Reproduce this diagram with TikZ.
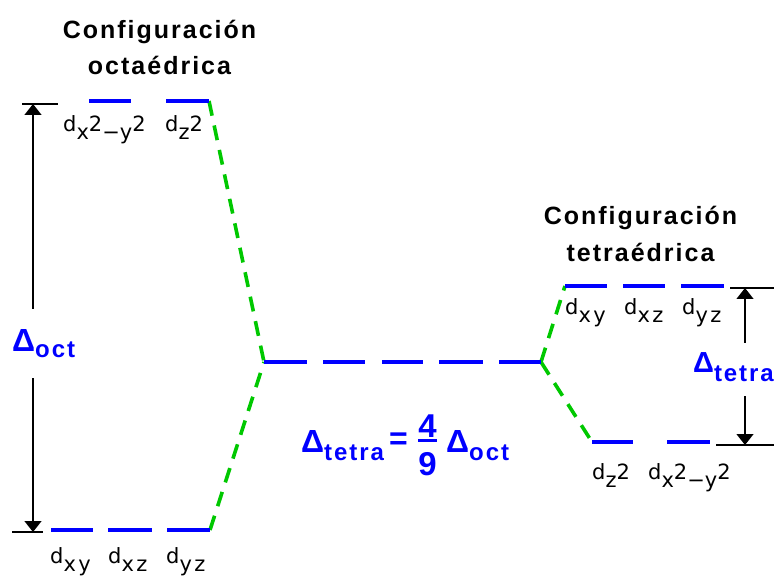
\documentclass[tikz,border=0pt]{standalone}
\usepackage{fontspec}
\setmainfont{Liberation Sans}
\newfontfamily\titlefont{Liberation Sans}[LetterSpace=8]
\newfontfamily\dfont{DejaVu Sans}[LetterSpace=12]
\newfontfamily\bfont{Liberation Sans}[LetterSpace=8]
\usetikzlibrary{arrows.meta}
\definecolor{lvlblue}{RGB}{0,0,255}
\definecolor{lvlgreen}{RGB}{0,200,0}
\newcommand\lowr[1]{\raisebox{-8pt}{#1}}
\tikzset{
  lvl/.style={draw=lvlblue,line width=4pt},
  corr/.style={draw=lvlgreen,line width=3.6pt,dash pattern=on 15pt off 10pt},
  tick/.style={draw=black,line width=1.3pt},
  gap/.style={draw=black,line width=1.3pt,-{Triangle[width=17pt,length=11pt]}},
  ttl/.style={inner sep=0pt,anchor=base,font=\titlefont\bfseries\fontsize{25pt}{30pt}\selectfont},
  orb/.style={inner sep=0pt,anchor=base west,font=\dfont\fontsize{21pt}{24pt}\selectfont},
  blu/.style={inner sep=0pt,anchor=base west,text=lvlblue,font=\bfont\bfseries\fontsize{32pt}{36pt}\selectfont},
}
\begin{document}
\begin{tikzpicture}[x=1pt,y=-1pt]
\useasboundingbox (0,0) rectangle (774,577);
% titles
\node[ttl] (t1) at (159.5,39) {Configuración};
\node[ttl] (t2) at (159.5,75) {octaédrica};
\node[ttl] (t3) at (640.5,225) {Configuración};
\node[ttl] (t4) at (640.5,262) {tetraédrica};
% level end points
\coordinate (oTopR) at (209,101);
\coordinate (oBotR) at (210,530);
\coordinate (mL) at (264,362);
\coordinate (mR) at (541,362);
\coordinate (tUpL) at (565,286);
\coordinate (tLoL) at (592,442);
% correlation lines
\draw[corr] (oTopR) -- (mL);
\draw[corr] (oBotR) -- (mL);
\draw[corr] (mR) -- (tUpL);
\draw[corr] (mR) -- (tLoL);
% octahedral levels
\draw[lvl] (89,101) -- (131,101);
\draw[lvl] (166,101) -- (oTopR);
\draw[lvl] (51,530) -- (93,530);
\draw[lvl] (108,530) -- (152,530);
\draw[lvl] (167,530) -- (oBotR);
% barycentre
\draw[lvl] (mL) -- (307,362);
\draw[lvl] (323,362) -- (365,362);
\draw[lvl] (382,362) -- (423,362);
\draw[lvl] (439,362) -- (483,362);
\draw[lvl] (499,362) -- (mR);
% tetrahedral levels
\draw[lvl] (tUpL) -- (607,286);
\draw[lvl] (623,286) -- (665,286);
\draw[lvl] (681,286) -- (724,286);
\draw[lvl] (tLoL) -- (633,442);
\draw[lvl] (667,442) -- (710,442);
% orbital labels
\node[orb] (o1) at (63,132) {d\lowr{x}2\lowr{−}\lowr{y}2};
\node[orb] (o2) at (165,132) {d\lowr{z}2};
\node[orb] (o3) at (50,563) {d\lowr{xy}};
\node[orb] (o4) at (108,563) {d\lowr{xz}};
\node[orb] (o5) at (166,563) {d\lowr{yz}};
\node[orb] (o6) at (565,315) {d\lowr{xy}};
\node[orb] (o7) at (624,315) {d\lowr{xz}};
\node[orb] (o8) at (682,315) {d\lowr{yz}};
\node[orb] (o9) at (592,479) {d\lowr{z}2};
\node[orb] (o10) at (648,479) {d\lowr{x}2\lowr{−}\lowr{y}2};
% Delta oct arrow
\coordinate (lt1) at (22,104); \coordinate (lt2) at (58,104);
\coordinate (lb1) at (12,532); \coordinate (lb2) at (43,532);
\draw[tick] (lt1) -- (lt2);
\draw[tick] (lb1) -- (lb2);
\coordinate (la1) at (33,309); \coordinate (la1t) at (33,104);
\coordinate (la2) at (33,378); \coordinate (la2t) at (33,532);
\draw[gap] (la1) -- (la1t);
\draw[gap] (la2) -- (la2t);
\node[blu] (doct) at (12,352) {Δ\raisebox{-6pt}{\fontsize{24pt}{28pt}\selectfont oct}};
% Delta tetra arrow
\coordinate (rt1) at (730,288); \coordinate (rt2) at (774,288);
\coordinate (rb1) at (716,445); \coordinate (rb2) at (774,445);
\draw[tick] (rt1) -- (rt2);
\draw[tick] (rb1) -- (rb2);
\coordinate (ra1) at (745,343); \coordinate (ra1t) at (745,288);
\coordinate (ra2) at (745,396); \coordinate (ra2t) at (745,445);
\draw[gap] (ra1) -- (ra1t);
\draw[gap] (ra2) -- (ra2t);
\node[blu,font=\bfont\bfseries\fontsize{29pt}{32pt}\selectfont] (dtet) at (693,373) {Δ\raisebox{-9pt}{\fontsize{24pt}{28pt}\selectfont tetra}};
% formula
\node[blu] (f1) at (301,452) {Δ\raisebox{-8pt}{\fontsize{24pt}{28pt}\selectfont tetra}};
\node[blu,anchor=center] (f2) at (398.5,441) {=};
\node[blu,anchor=base,font=\bfont\bfseries\fontsize{33pt}{36pt}\selectfont] (f3) at (427.5,437) {4};
\node[blu,anchor=base,font=\bfont\bfseries\fontsize{33pt}{36pt}\selectfont] (f4) at (427.5,475) {9};
\draw[draw=lvlblue,line width=3pt] (f3.south west) ++(0,3) coordinate (fb1) -- (f3.south east |- fb1) coordinate (fb2);
\node[blu] (f5) at (446,452) {Δ\raisebox{-8pt}{\fontsize{24pt}{28pt}\selectfont oct}};
\end{tikzpicture}
\end{document}
